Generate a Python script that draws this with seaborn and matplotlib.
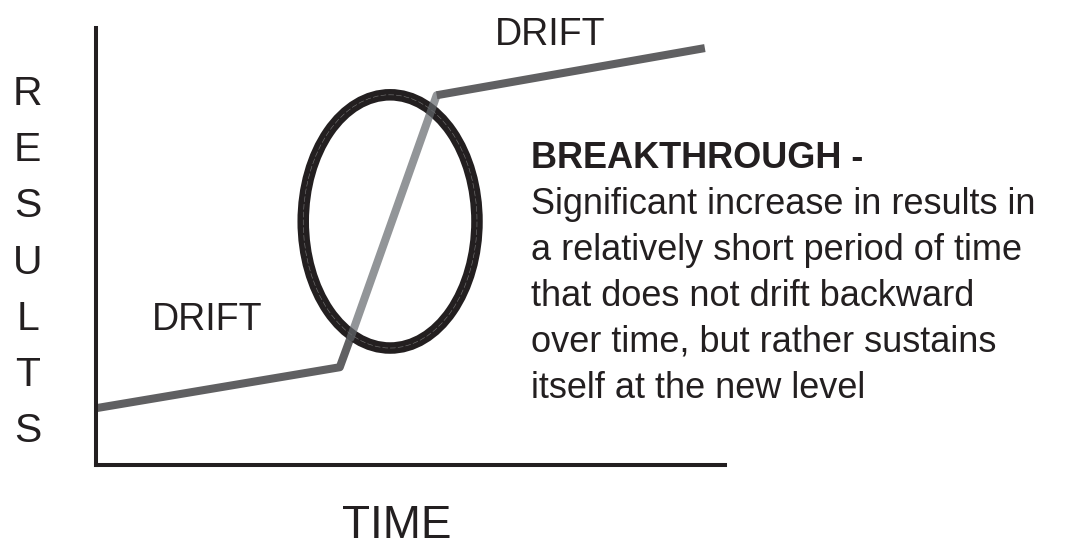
import pandas as pd
import matplotlib
matplotlib.use('Agg')
import matplotlib.pyplot as plt
from matplotlib.patches import Ellipse
import seaborn as sns

# values (time / results on a 0-100 scale)
drift_start_time = [0, 38.8, 40.5]
drift_start_results = [12.9, 22.3, 29.0]
breakthrough_time = [40.5, 54.2]
breakthrough_results = [29.0, 84.6]
drift_end_time = [54.2, 96.8]
drift_end_results = [84.6, 95.4]

# circled breakthrough zone: centre, width, height
zone_center = (46.8, 55.7)
zone_width = 27.6
zone_height = 58.0

axis_label_y = list('RESULTS')
axis_label_x = 'TIME'
drift_label = 'DRIFT'
note_title = 'BREAKTHROUGH -'
note_lines = [
    'Significant increase in results in',
    'a relatively short period of time',
    'that does not drift backward',
    'over time, but rather sustains',
    'itself at the new level',
]

sns.set_theme(style='white')
plt.rcParams['font.family'] = ['Liberation Sans', 'DejaVu Sans']

W, H = 1078, 546
fig = plt.figure(figsize=(W / 100, H / 100), dpi=100)
ax = fig.add_axes([95.5 / W, 1 - 464.6 / H, 629.5 / W, (464.6 - 28) / H])


def px(x, y):
    # pixel position -> figure fraction, used only for text placement
    return x / W, 1 - y / H


dark = '#606062'
ink = '#231f20'

df_a = pd.DataFrame({'time': drift_start_time, 'results': drift_start_results})
df_b = pd.DataFrame({'time': breakthrough_time, 'results': breakthrough_results})
df_c = pd.DataFrame({'time': drift_end_time, 'results': drift_end_results})

sns.lineplot(data=df_a, x='time', y='results', sort=False, estimator=None,
             color=dark, lw=5.8, solid_capstyle='butt', zorder=2, ax=ax)

zone = Ellipse(zone_center, zone_width, zone_height, fill=False,
               edgecolor=ink, lw=8.3, zorder=3)
ax.add_patch(zone)
zone_core = Ellipse(zone_center, zone_width, zone_height, fill=False,
                    edgecolor='#7a7a7a', lw=0.4, ls=(0, (10, 4)), zorder=3.5)
ax.add_patch(zone_core)

sns.lineplot(data=df_b, x='time', y='results', sort=False, estimator=None,
             color='#64686c', alpha=0.7, lw=5.8, solid_capstyle='round',
             zorder=4, ax=ax)
sns.lineplot(data=df_c, x='time', y='results', sort=False, estimator=None,
             color=dark, lw=5.8, solid_capstyle='butt', zorder=5, ax=ax)

ax.set_xlim(0, 100)
ax.set_ylim(0, 100)
ax.set_xticks([])
ax.set_yticks([])
ax.set_xlabel('')
ax.set_ylabel('')
for side in ['top', 'right']:
    ax.spines[side].set_visible(False)
for side in ['left', 'bottom']:
    ax.spines[side].set_color(ink)
    ax.spines[side].set_linewidth(2.9)

txt = dict(color=ink, fontsize=27)
fig.text(*px(495, 45), drift_label, ha='left', va='baseline', **txt)
fig.text(*px(152, 330), drift_label, ha='left', va='baseline', **txt)

for i, letter in enumerate(axis_label_y):
    fig.text(*px(27.5, 105 + 56.2 * i), letter, ha='center', va='baseline',
             color=ink, fontsize=29.5)
fig.text(*px(397, 538), axis_label_x, ha='center', va='baseline',
         color=ink, fontsize=33)

fig.text(*px(531, 168), note_title, ha='left', va='baseline',
         color=ink, fontsize=26, fontweight='bold')
for i, line in enumerate(note_lines):
    fig.text(*px(531, 214 + 46 * i), line, ha='left', va='baseline',
             color=ink, fontsize=26)

fig.savefig('out.png', dpi=100, facecolor='white')
